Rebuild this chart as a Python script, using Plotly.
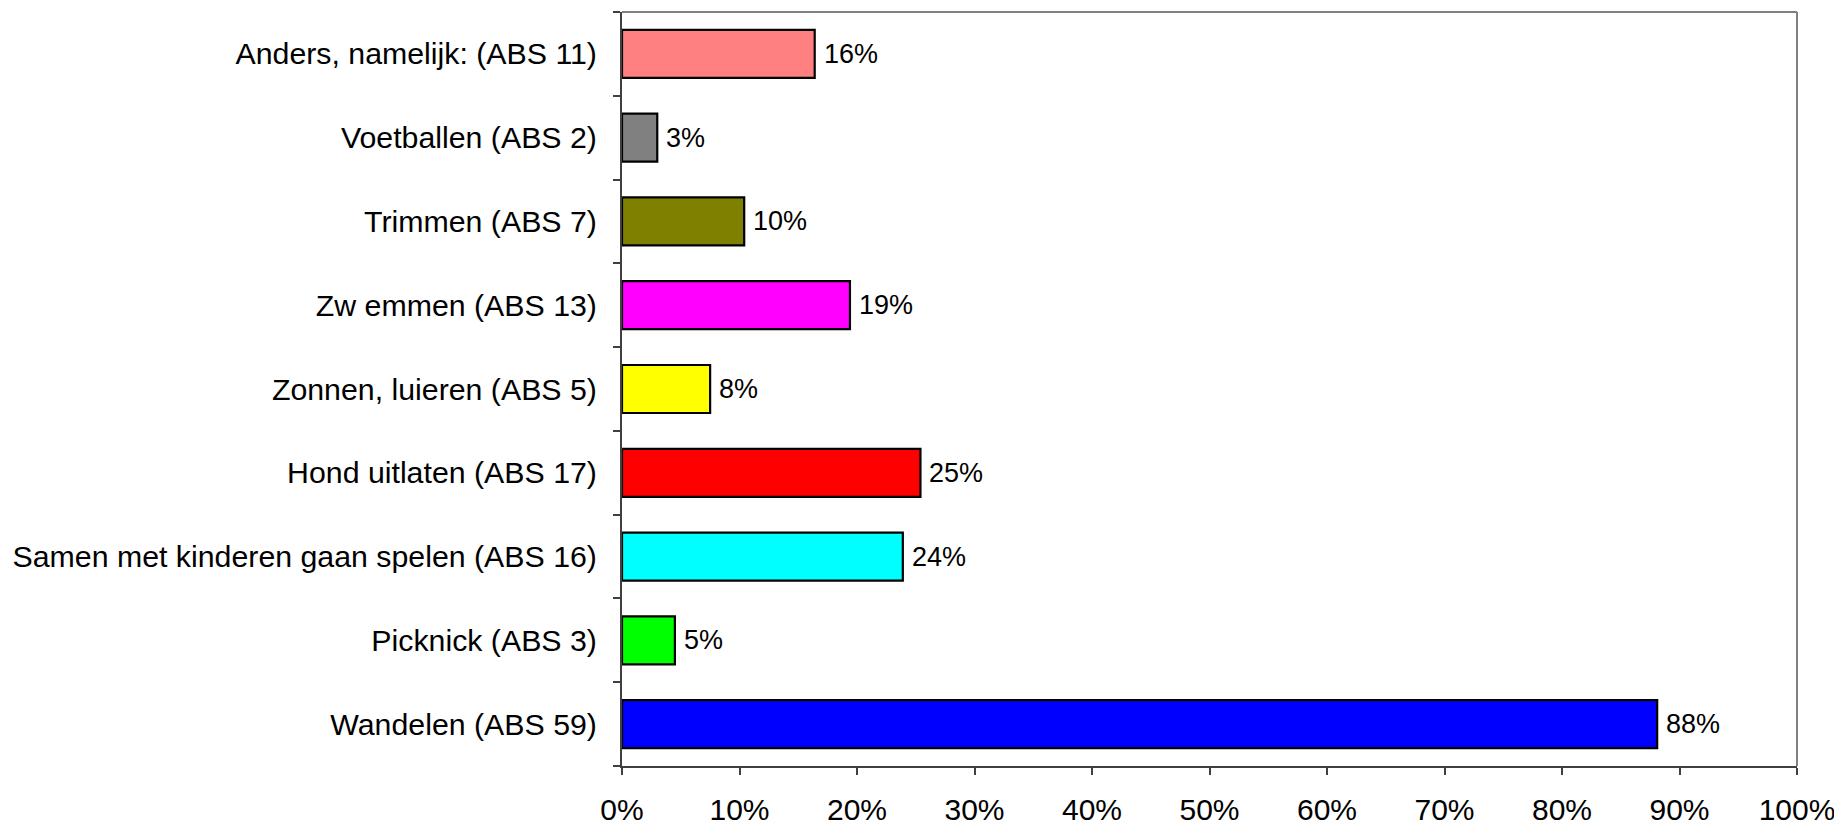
import plotly.graph_objects as go

# Categories listed bottom -> top
categories = [
    "Wandelen (ABS 59)",
    "Picknick (ABS 3)",
    "Samen met kinderen gaan spelen (ABS 16)",
    "Hond uitlaten (ABS 17)",
    "Zonnen, luieren (ABS 5)",
    "Zw emmen (ABS 13)",
    "Trimmen (ABS 7)",
    "Voetballen (ABS 2)",
    "Anders, namelijk: (ABS 11)",
]
values = [88.1, 4.5, 23.9, 25.4, 7.5, 19.4, 10.4, 3.0, 16.4]
colors = ["#0000FF", "#00FF00", "#00FFFF", "#FF0000", "#FFFF00",
          "#FF00FF", "#808000", "#808080", "#FF8080"]
x_ticks = [0, 10, 20, 30, 40, 50, 60, 70, 80, 90, 100]
x_tick_labels = [f"{t}%" for t in x_ticks]

fig = go.Figure()
fig.add_trace(go.Bar(
    y=categories, x=values, orientation="h",
    marker=dict(color=colors, line=dict(color="#000000", width=2.2)),
    hoverinfo="skip",
))

for v, c in zip(values, categories):
    fig.add_annotation(
        x=v, y=c, text=f"{round(v + 1e-9):.0f}%", showarrow=False,
        xanchor="left", yanchor="middle", xshift=7,
        font=dict(family="Liberation Sans Narrow, Arial Narrow, Liberation Sans, Arial", size=27, color="#000000"),
    )

# the page body adds an 8px offset; margins compensate for it
fig.update_layout(
    width=1842, height=823,
    margin=dict(l=614, r=53, t=4, b=65, autoexpand=False),
    paper_bgcolor="#FFFFFF", plot_bgcolor="#FFFFFF",
    bargap=0.427,
    showlegend=False,
    font=dict(family="Liberation Sans, Arial, sans-serif", color="#000000"),
    xaxis=dict(
        range=[0, 100], tickvals=x_ticks, ticktext=x_tick_labels,
        showgrid=False, zeroline=False, automargin=False,
        showline=True, linecolor="#404040", linewidth=2,
        ticks="outside", ticklen=7, tickwidth=1.5, tickcolor="#404040",
        tickfont=dict(size=30, color="#000000"),
        ticklabelstandoff=9,
    ),
    yaxis=dict(
        type="category", automargin=False,
        showgrid=False, zeroline=False,
        showline=True, linecolor="#404040", linewidth=2,
        ticks="outside", ticklen=7, tickwidth=1.5, tickcolor="#404040",
        tickson="boundaries",
        tickfont=dict(size=30.3, color="#000000"),
        ticklabelstandoff=17,
    ),
    shapes=[
        dict(type="line", xref="paper", yref="paper", x0=0, x1=1, y0=1, y1=1,
             line=dict(color="#808080", width=2)),
        dict(type="line", xref="paper", yref="paper", x0=1, x1=1, y0=0, y1=1,
             line=dict(color="#808080", width=2)),
    ],
)

fig.write_html("out.html")
